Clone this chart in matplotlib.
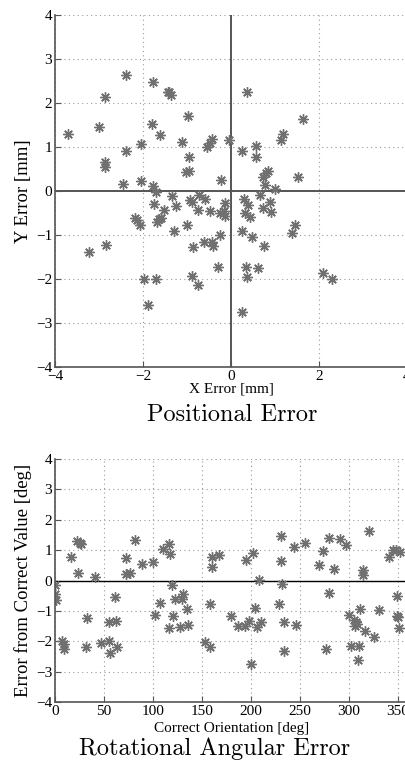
import numpy as np
import matplotlib
matplotlib.use("Agg")
import matplotlib.pyplot as plt

# positional error [mm]
pos_x = [-3.70, -2.99, -2.86, -2.86, -2.86, -2.39, -2.39, -2.45, -2.05, -2.05,
         -1.77, -1.80, -1.61, -1.78, -1.71, -1.44, -1.40, -1.37, -0.98, -1.12,
         -0.95, -1.02, -0.95, -0.55, -0.48, -0.43, -0.22, -0.04, 0.26, 0.37,
         0.56, 0.56, 0.84, 0.80, 0.72, 0.78, 1.01, 1.18, 1.13, 1.64,
         1.53,
         -1.75, -1.33, -1.24, -1.52, -0.93, -0.89, -0.74, -0.72, -0.58, -0.48,
         -2.18, -2.13, -2.07, -1.69, -1.63, -1.59, -1.30, -1.00, -0.86, -2.84,
         -3.23, -1.97, -1.71, -1.88, -0.89, -0.76, -0.62, -0.43, -0.40, -0.25,
         -0.30, -0.24, -0.17, -0.14, -0.14, 0.29, 0.39, 0.32, 0.43, 0.66,
         0.89, 0.92, 0.73, 0.26, 0.47, 0.75, 1.45, 1.39, 0.33, 0.36,
         0.62, 0.24, 2.10, 2.29]
pos_y = [1.30, 1.46, 2.14, 0.65, 0.55, 2.63, 0.92, 0.15, 1.06, 0.23,
         2.48, 1.52, 1.27, 0.12, -0.03, 2.25, 2.26, 2.19, 1.70, 1.12,
         0.78, 0.43, 0.46, 1.01, 1.10, 1.19, 0.24, 1.16, 0.92, 2.25,
         1.03, 0.77, 0.46, 0.40, 0.32, 0.13, 0.04, 1.30, 1.16, 1.63,
         0.31,
         -0.29, -0.12, -0.33, -0.43, -0.20, -0.24, -0.43, -0.08, -0.18, -0.46,
         -0.62, -0.67, -0.77, -0.70, -0.64, -0.61, -0.90, -0.77, -1.28, -1.23,
         -1.38, -2.01, -2.01, -2.59, -1.93, -2.14, -1.15, -1.17, -1.25, -1.00,
         -1.72, -0.50, -0.45, -0.27, -0.56, -0.19, -0.31, -0.51, -0.59, -0.09,
         -0.24, -0.47, -0.39, -0.90, -1.04, -1.24, -0.77, -0.96, -1.73, -1.95,
         -1.76, -2.76, -1.86, -1.99]

# rotational error [deg] vs correct orientation [deg]
rot_x = [0, 0, 1, 16, 22, 25, 27, 23, 41,
         72, 72, 77, 82, 89, 100, 110, 116, 117, 119, 160, 167, 160,
         61, 33, 55, 62, 7, 9, 9, 32, 47, 55, 56, 63,
         107, 122, 131, 130, 135, 102, 120, 116, 128, 136, 158, 153, 158, 180,
         231, 244, 255, 280, 291, 297, 320, 341, 345, 348, 352,
         195, 202, 231, 273, 269, 285, 314, 314, 208, 232, 280, 349, 229, 204,
         187, 194, 198, 206, 210, 234, 246, 234, 277, 200, 300, 311, 331,
         305, 307, 308, 306, 316, 325, 302, 310, 309, 349, 350, 351]
rot_err = [-0.15, -0.45, -0.65, 0.78, 1.30, 1.25, 1.19, 0.24, 0.11,
           0.74, 0.20, 0.25, 1.34, 0.54, 0.62, 1.05, 1.19, 0.86, -0.16, 0.79, 0.83, 0.46,
           -0.54, -1.25, -1.38, -1.32, -1.98, -2.10, -2.25, -2.18, -2.05, -1.98, -2.38, -2.19,
           -0.73, -0.61, -0.46, -0.60, -0.93, -1.13, -1.18, -1.58, -1.52, -1.45, -0.77, -2.04, -2.18, -1.16,
           1.45, 1.10, 1.24, 1.40, 1.38, 1.18, 1.63, 0.77, 1.01, 0.99, 0.93,
           0.66, 0.91, 0.63, 0.96, 0.50, 0.39, 0.33, 0.18, 0.02, -0.13, -0.40, -0.52, -0.77, -0.91,
           -1.49, -1.49, -1.32, -1.52, -1.38, -1.35, -1.46, -2.31, -2.27, -2.74, -1.14, -0.94, -0.97,
           -1.30, -1.37, -1.43, -1.49, -1.67, -1.87, -2.17, -2.15, -2.62, -1.16, -1.21, -1.56]

pos_xticks = [-4, -2, 0, 2, 4]
rot_xticks = [0, 50, 100, 150, 200, 250, 300, 350]
yticks = [-4, -3, -2, -1, 0, 1, 2, 3, 4]

SERIF = ["Liberation Serif", "DejaVu Serif"]
plt.rcParams["font.family"] = SERIF
plt.rcParams["axes.unicode_minus"] = True

MK = dict(ls="none", marker=(8, 2, 0), ms=7.5, mew=1.0, color="#707070")
AXC = "#555555"


def style(ax):
    ax.grid(True, ls=(0, (1, 3)), color="#999999", lw=0.8)
    ax.set_axisbelow(True)
    for s in ("top", "right"):
        ax.spines[s].set_visible(False)
    for s in ("left", "bottom"):
        ax.spines[s].set_color(AXC)
        ax.spines[s].set_linewidth(1.2)
    ax.tick_params(direction="in", length=4, width=0.8, color=AXC,
                   labelsize=11, pad=2)


fig = plt.figure(figsize=(4.06, 7.62), dpi=100)

# positional error
ax1 = fig.add_axes([55 / 406, 1 - 367 / 762, 352 / 406, 352 / 762])
style(ax1)
ax1.axhline(0, color=AXC, lw=1.4, zorder=1)
ax1.axvline(0, color=AXC, lw=1.4, zorder=1)
ax1.plot(pos_x, pos_y, **MK)
ax1.set_xlim(-4, 4)
ax1.set_ylim(-4, 4)
ax1.set_xticks(pos_xticks)
ax1.set_yticks(yticks)
ax1.set_xlabel("X Error [mm]", fontsize=11, labelpad=0)
ax1.set_ylabel("Y Error [mm]", fontsize=13.5, labelpad=3)
fig.text(232 / 406, 1 - 415 / 762, "Positional Error", family="cmr10",
         fontsize=17.5, ha="center", va="center")

# rotational angular error
ax2 = fig.add_axes([55 / 406, 1 - 702 / 762, 352.8 / 406, 243 / 762])
style(ax2)
ax2.axhline(0, color="black", lw=1.0, zorder=1)
ax2.plot(rot_x, rot_err, **MK)
ax2.set_xlim(0, 360)
ax2.set_ylim(-4, 4)
ax2.set_xticks(rot_xticks)
ax2.set_yticks(yticks)
ax2.set_xlabel("Correct Orientation [deg]", fontsize=11, labelpad=3)
ax2.set_ylabel("Error from Correct Value [deg]", fontsize=13.5, labelpad=3)
fig.text(215 / 406, 1 - 749 / 762, "Rotational Angular Error", family="cmr10",
         fontsize=17.5, ha="center", va="center")

fig.savefig("out.png", dpi=100)
